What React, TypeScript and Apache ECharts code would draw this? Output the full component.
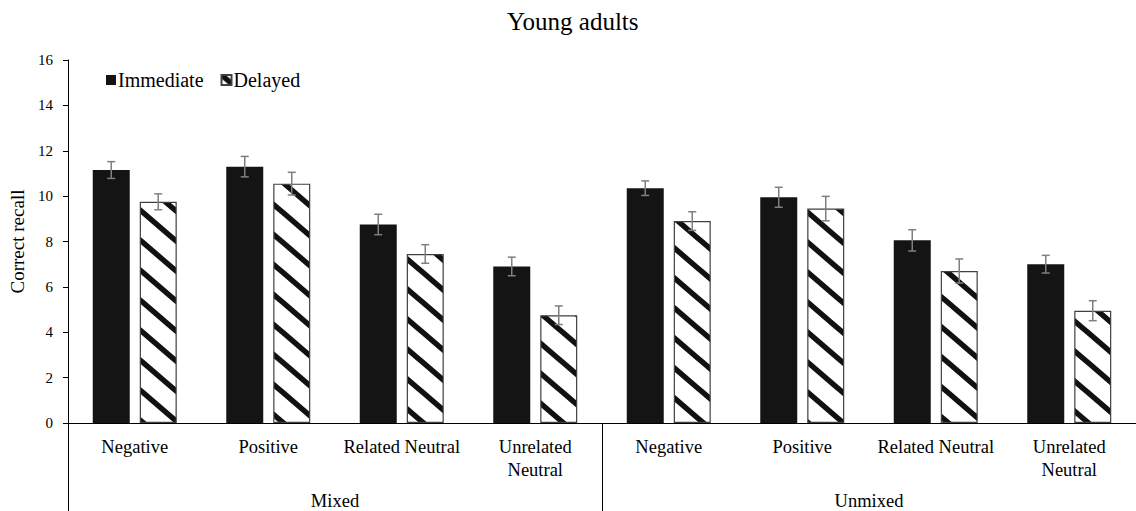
import React, { useEffect, useRef } from "react";
import * as echarts from "echarts";

const categories = [
  "Negative",
  "Positive",
  "Related Neutral",
  "Unrelated\nNeutral",
  "Negative",
  "Positive",
  "Related Neutral",
  "Unrelated\nNeutral",
];
const groups = ["Mixed", "Unmixed"];
const immediate = [11.15, 11.3, 8.75, 6.9, 10.35, 9.95, 8.05, 7.0];
const delayed = [9.75, 10.55, 7.45, 4.75, 8.9, 9.45, 6.7, 4.95];
const immediateErr = [0.37, 0.45, 0.45, 0.41, 0.32, 0.44, 0.47, 0.39];
const delayedErr = [0.35, 0.5, 0.41, 0.41, 0.41, 0.54, 0.53, 0.44];
const yTicks = { min: 0, max: 16, interval: 2 };

const FONT = "'Liberation Serif', 'Times New Roman', serif";
const BAR_W = 37;
const GAP = 10;

function makeHatch(): HTMLCanvasElement {
  const w = 35;
  const h = 30;
  const c = document.createElement("canvas");
  c.width = w;
  c.height = h;
  const ctx = c.getContext("2d")!;
  ctx.fillStyle = "#ffffff";
  ctx.fillRect(0, 0, w, h);
  ctx.strokeStyle = "#111111";
  ctx.lineWidth = 5.5;
  for (let k = -2; k <= 2; k++) {
    ctx.beginPath();
    ctx.moveTo(-w, -h + h * k);
    ctx.lineTo(2 * w, 2 * h + h * k);
    ctx.stroke();
  }
  return c;
}

export default function App() {
  const ref = useRef<HTMLDivElement>(null);
  useEffect(() => {
    if (!ref.current) return;
    const chart = echarts.init(ref.current, null, { renderer: "svg" });
    const hatch = makeHatch();
    const offset = (BAR_W + GAP) / 2;

    const errSeries = (vals: number[], errs: number[], dir: number) => ({
      type: "custom",
      silent: true,
      z: 10,
      data: vals.map((v, i) => [i, v, errs[i]]),
      renderItem: (params: any, api: any) => {
        const i = api.value(0);
        const v = api.value(1);
        const e = api.value(2);
        const top = api.coord([i, v + e]);
        const bot = api.coord([i, v - e]);
        const x = top[0] + dir * offset;
        const cap = 4;
        const style = { stroke: "#7f7f7f", lineWidth: 1.5 };
        return {
          type: "group",
          children: [
            { type: "line", shape: { x1: x, y1: top[1], x2: x, y2: bot[1] }, style },
            { type: "line", shape: { x1: x - cap, y1: top[1], x2: x + cap, y2: top[1] }, style },
            { type: "line", shape: { x1: x - cap, y1: bot[1], x2: x + cap, y2: bot[1] }, style },
          ],
        };
      },
    });

    chart.setOption({
      animation: false,
      textStyle: { fontFamily: FONT },
      title: {
        text: "Young adults",
        left: 507,
        top: 9,
        padding: 0,
        textStyle: { fontFamily: FONT, fontSize: 25, fontWeight: "normal", color: "#000" },
      },
      legend: {
        left: 106,
        top: 70,
        padding: 0,
        itemWidth: 10,
        itemHeight: 10,
        itemGap: 17,
        icon: "rect",
        textStyle: { fontFamily: FONT, fontSize: 20, color: "#000", padding: [0, 0, 0, -3] },
        data: ["Immediate", "Delayed"],
      },
      grid: { left: 68, right: -10, top: 60, bottom: 88 },
      xAxis: [
        {
          type: "category",
          data: categories,
          axisLine: { lineStyle: { color: "#000", width: 1 } },
          axisTick: {
            show: true,
            length: 88,
            interval: (i: number) => i % 4 === 0,
            lineStyle: { color: "#000", width: 1 },
          },
          axisLabel: {
            interval: 0,
            margin: 12,
            fontFamily: FONT,
            fontSize: 18.5,
            color: "#000",
            lineHeight: 23,
          },
        },
        {
          type: "category",
          data: groups,
          position: "bottom",
          offset: 60,
          axisLine: { show: false },
          axisTick: { show: false },
          axisLabel: { margin: 8, fontFamily: FONT, fontSize: 18.5, color: "#000" },
        },
      ],
      yAxis: {
        type: "value",
        min: yTicks.min,
        max: yTicks.max,
        interval: yTicks.interval,
        name: "Correct recall",
        nameLocation: "middle",
        nameGap: 33,
        nameTextStyle: { fontFamily: FONT, fontSize: 19, color: "#000" },
        axisLine: { show: true, lineStyle: { color: "#000", width: 1 } },
        axisTick: { show: true, length: 5, lineStyle: { color: "#000" } },
        splitLine: { show: false },
        axisLabel: { fontFamily: FONT, fontSize: 15, color: "#000", margin: 15 },
      },
      series: [
        {
          name: "Immediate",
          type: "bar",
          data: immediate,
          barWidth: BAR_W,
          barGap: `${(GAP / BAR_W) * 100}%`,
          itemStyle: { color: "#141414" },
        },
        {
          name: "Delayed",
          type: "bar",
          data: delayed,
          barWidth: BAR_W,
          itemStyle: {
            color: { image: hatch, repeat: "repeat" },
            borderColor: "#404040",
            borderWidth: 1.2,
          },
        },
        errSeries(immediate, immediateErr, -1),
        errSeries(delayed, delayedErr, 1),
      ],
    });
    return () => chart.dispose();
  }, []);
  return (
    <div
      ref={ref}
      style={{ position: "fixed", left: 0, top: 0, width: 1136, height: 511, background: "#fff" }}
    />
  );
}
